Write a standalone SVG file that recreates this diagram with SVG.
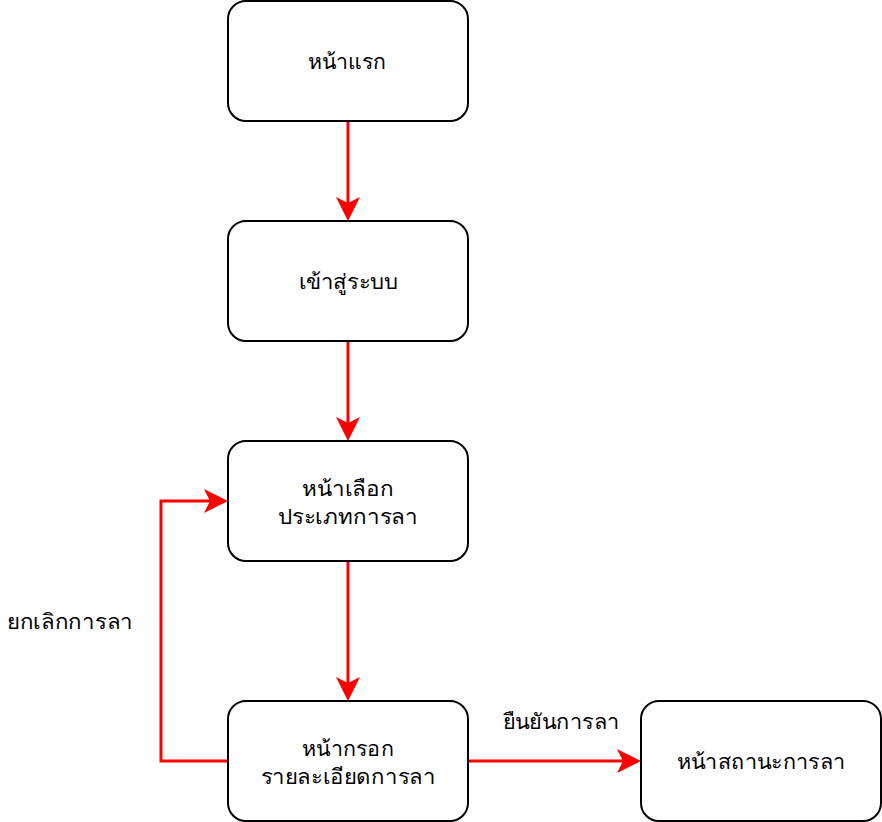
<svg xmlns="http://www.w3.org/2000/svg" width="882" height="822" viewBox="0 0 882 822">
<style>
.node rect{fill:#fff;stroke:#000;stroke-width:2}
text{font-family:"Noto Sans","DejaVu Sans",sans-serif;font-size:21px;fill:#000;text-anchor:middle}
.edge{fill:none;stroke:#ff0000;stroke-width:3}
</style>
<defs>
<marker id="ah" markerUnits="userSpaceOnUse" markerWidth="24" markerHeight="24" viewBox="0 0 24 24" refX="6" refY="12" orient="auto">
<path d="M0,0 L24,12 L0,24 L6,12 Z" fill="#ff0000"/>
</marker>
</defs>
<rect width="882" height="822" fill="#fff"/>
<g id="connectors">
<path class="edge" d="M348,121 V203" marker-end="url(#ah)"/>
<path class="edge" d="M348,341 V423" marker-end="url(#ah)"/>
<path class="edge" d="M348,561 V683" marker-end="url(#ah)"/>
<path class="edge" d="M228,761 H161 V501 H210" marker-end="url(#ah)"/>
<path class="edge" d="M468,761 H623" marker-end="url(#ah)"/>
<text x="70" y="629" textLength="126" lengthAdjust="spacingAndGlyphs">ยกเลิกการลา</text>
<text x="561" y="729" textLength="117" lengthAdjust="spacingAndGlyphs">ยืนยันการลา</text>
</g>
<g id="n1" class="node"><rect x="228" y="1" width="240" height="120" rx="18"/><text x="347" y="69" textLength="79" lengthAdjust="spacingAndGlyphs">หน้าแรก</text></g>
<g id="n2" class="node"><rect x="228" y="221" width="240" height="120" rx="18"/><text x="348" y="289" textLength="99" lengthAdjust="spacingAndGlyphs">เข้าสู่ระบบ</text></g>
<g id="n3" class="node"><rect x="228" y="441" width="240" height="120" rx="18"/><text x="348" y="496" textLength="92" lengthAdjust="spacingAndGlyphs">หน้าเลือก</text><text x="348" y="524" textLength="140" lengthAdjust="spacingAndGlyphs">ประเภทการลา</text></g>
<g id="n4" class="node"><rect x="228" y="701" width="240" height="120" rx="18"/><text x="348" y="756" textLength="92" lengthAdjust="spacingAndGlyphs">หน้ากรอก</text><text x="348" y="784" textLength="175" lengthAdjust="spacingAndGlyphs">รายละเอียดการลา</text></g>
<g id="n5" class="node"><rect x="641" y="701" width="240" height="120" rx="18"/><text x="761" y="769" textLength="169" lengthAdjust="spacingAndGlyphs">หน้าสถานะการลา</text></g>
</svg>
